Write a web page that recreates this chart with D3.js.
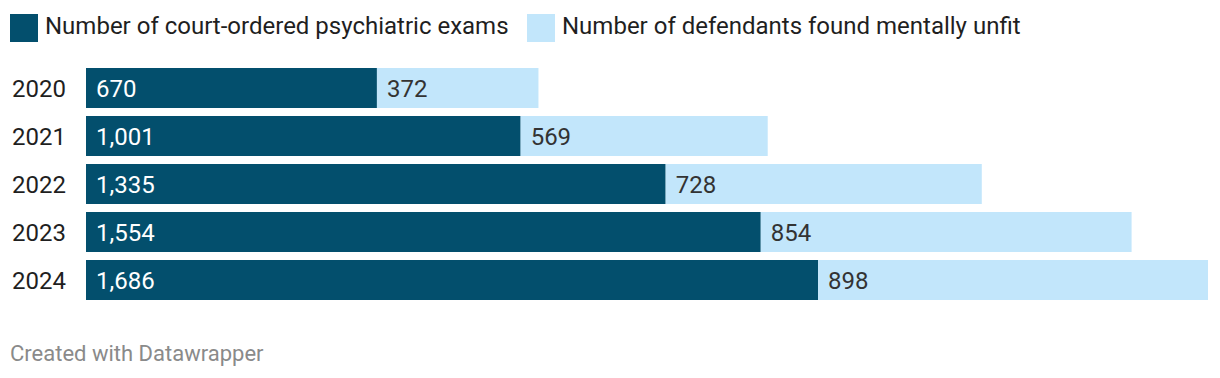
<!DOCTYPE html>
<html>
<head>
<meta charset="utf-8">
<script src="https://cdn.jsdelivr.net/npm/d3@7"></script>
<style>
  html, body { margin: 0; padding: 0; background: #fff; }
  svg { display: block; font-family: Roboto, sans-serif; }
</style>
</head>
<body>
<div id="chart"></div>
<script>
const years = ['2020', '2021', '2022', '2023', '2024']
const exams = [670, 1001, 1335, 1554, 1686]
const unfit = [372, 569, 728, 854, 898]
const seriesNames = ['Number of court-ordered psychiatric exams', 'Number of defendants found mentally unfit']
const colors = ['#034f6d', '#c2e6fb']

const width = 1220
const height = 378

const svg = d3.select('#chart').append('svg').attr('width', width).attr('height', height)

const rows = years.map((y, i) => ({ year: y, exams: exams[i], unfit: unfit[i] }))
const stack = d3.stack().keys(['exams', 'unfit'])(rows)

const x = d3.scaleLinear()
  .domain([0, d3.max(rows, (d) => d.exams + d.unfit)])
  .range([86, 1208])
const y = d3.scaleBand().domain(years).range([68, 300]).paddingInner(8 / 48).paddingOuter(0)

const fmt = d3.format(',')

// legend
const legend = svg.append('g').attr('class', 'legend')
const legendX = [10, 527]
seriesNames.forEach((name, i) => {
  const item = legend.append('g').attr('transform', `translate(${legendX[i]},14)`)
  item.append('rect').attr('width', 28).attr('height', 28).attr('fill', colors[i])
  item.append('text')
    .attr('x', 35).attr('y', 20)
    .attr('font-size', 24).attr('fill', '#1f1f1f')
    .text(name)
})

// year labels
svg.append('g').selectAll('text').data(years).join('text')
  .attr('x', 12)
  .attr('y', (d) => y(d) + y.bandwidth() / 2)
  .attr('dy', '0.355em')
  .attr('font-size', 24).attr('fill', '#1f1f1f')
  .text((d) => d)

// bars
const layers = svg.append('g').selectAll('g').data(stack).join('g')
  .attr('fill', (d, i) => colors[i])

layers.selectAll('rect').data((d) => d).join('rect')
  .attr('x', (d) => x(d[0]))
  .attr('width', (d) => x(d[1]) - x(d[0]))
  .attr('y', (d) => y(d.data.year))
  .attr('height', y.bandwidth())

// value labels
layers.each(function (layer, i) {
  d3.select(this).selectAll('text').data(layer).join('text')
    .attr('x', (d) => x(d[0]) + 10)
    .attr('y', (d) => y(d.data.year) + y.bandwidth() / 2)
    .attr('dy', '0.355em')
    .attr('font-size', 24)
    .attr('fill', i === 0 ? '#ffffff' : '#333333')
    .text((d) => fmt(d[1] - d[0]))
})

// footer
svg.append('text')
  .attr('x', 10).attr('y', 361)
  .attr('font-size', 22).attr('fill', '#8a8a8a')
  .text('Created with Datawrapper')
</script>
</body>
</html>
